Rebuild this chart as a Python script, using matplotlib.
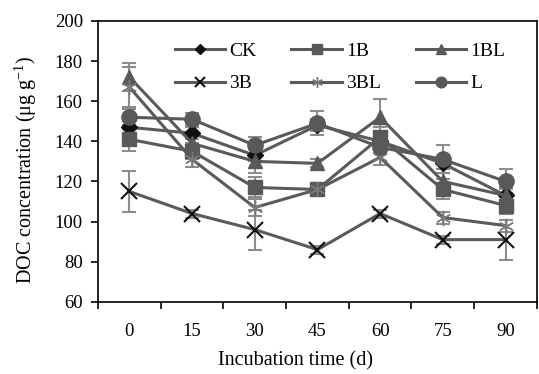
import matplotlib.pyplot as plt
import numpy as np

plt.rcParams['font.family'] = ['Liberation Serif', 'DejaVu Serif']
plt.rcParams['mathtext.fontset'] = 'custom'
plt.rcParams['mathtext.rm'] = 'Liberation Serif'

days = ['0', '15', '30', '45', '60', '75', '90']

ck = [147, 144, 133, 148, 140, 129, 113]
ckErr = [3, 3, 3, 3, 3, 3, 3]
b1 = [141, 135, 117, 116, 142, 116, 108]
b1Err = [6, 4, 5, 2, 5, 5, 4]
bl1 = [172, 139, 130, 129, 152, 120, 113]
bl1Err = [7, 5, 6, 2, 9, 4, 4]
b3 = [115, 104, 96, 86, 104, 91, 91]
b3Err = [10, 2, 10, 2, 2, 2, 10]
bl3 = [167, 131, 107, 116, 132, 102, 98]
bl3Err = [10, 4, 4, 2, 4, 3, 3]
l = [152, 151, 138, 149, 137, 131, 120]
lErr = [4, 3, 4, 6, 3, 7, 6]

series = [
    ('CK', ck, ckErr, 'D', '#111111', 8),
    ('1B', b1, b1Err, 's', '#595959', 10),
    ('1BL', bl1, bl1Err, '^', '#595959', 10),
    ('3B', b3, b3Err, 'x', '#111111', 11),
    ('3BL', bl3, bl3Err, (6, 2, 0), '#7a7a7a', 11),
    ('L', l, lErr, 'o', '#595959', 11),
]

fig = plt.figure(figsize=(5.39, 3.74), dpi=100)
ax = fig.add_axes([0.182, 0.193, 0.814, 0.751])

xs = np.arange(len(days))
for name, vals, err, mk, mc, ms in series:
    ax.errorbar(xs, vals, yerr=err, fmt='none', ecolor='#8c8c8c',
                elinewidth=1.5, capsize=5, capthick=1.5, zorder=2)
handles = {}
for name, vals, err, mk, mc, ms in series:
    if name in ('3B', '3BL'):
        h, = ax.plot(xs, vals, color='#5a5a5a', lw=2.2, marker=mk, markersize=ms,
                     markeredgecolor=mc, markeredgewidth=1.5 if name == '3B' else 1.0,
                     markerfacecolor='none', label=name, zorder=3)
    else:
        h, = ax.plot(xs, vals, color='#5a5a5a', lw=2.2, marker=mk, markersize=ms,
                     markerfacecolor=mc, markeredgecolor=mc, label=name, zorder=3)
    handles[name] = h

ax.set_xlim(-0.5, len(days) - 0.5)
ax.set_ylim(60, 200)
ax.set_yticks(np.arange(60, 201, 20))
ax.set_xticks(xs)
ax.set_xticklabels(days)
ax.set_xticks(np.arange(-0.5, len(days), 1), minor=True)
ax.tick_params(axis='x', which='major', length=0, pad=15, labelsize=13.5)
ax.tick_params(axis='x', which='minor', length=5, width=1.2, direction='out')
ax.tick_params(axis='y', length=5, width=1.2, direction='out', labelsize=13.5, pad=6)
for s in ax.spines.values():
    s.set_linewidth(1.2)

ax.set_xlabel('Incubation time (d)', fontsize=14.5)
ax.set_ylabel('DOC concentration (μg g$^{\\mathrm{-1}}$)', fontsize=14.5)
ax.xaxis.set_label_coords(0.451, -0.175)
ax.yaxis.set_label_coords(-0.135, 0.47)

# legend filled row by row
order = ['CK', '3B', '1B', '3BL', '1BL', 'L']
ax.legend([handles[n] for n in order], order, ncol=3, loc='upper left',
          bbox_to_anchor=(0.135, 0.985), frameon=False, fontsize=14,
          handlelength=2.6, columnspacing=1.8, handletextpad=0.2,
          labelspacing=0.75, markerscale=0.7)

fig.savefig('out.png', dpi=100)
